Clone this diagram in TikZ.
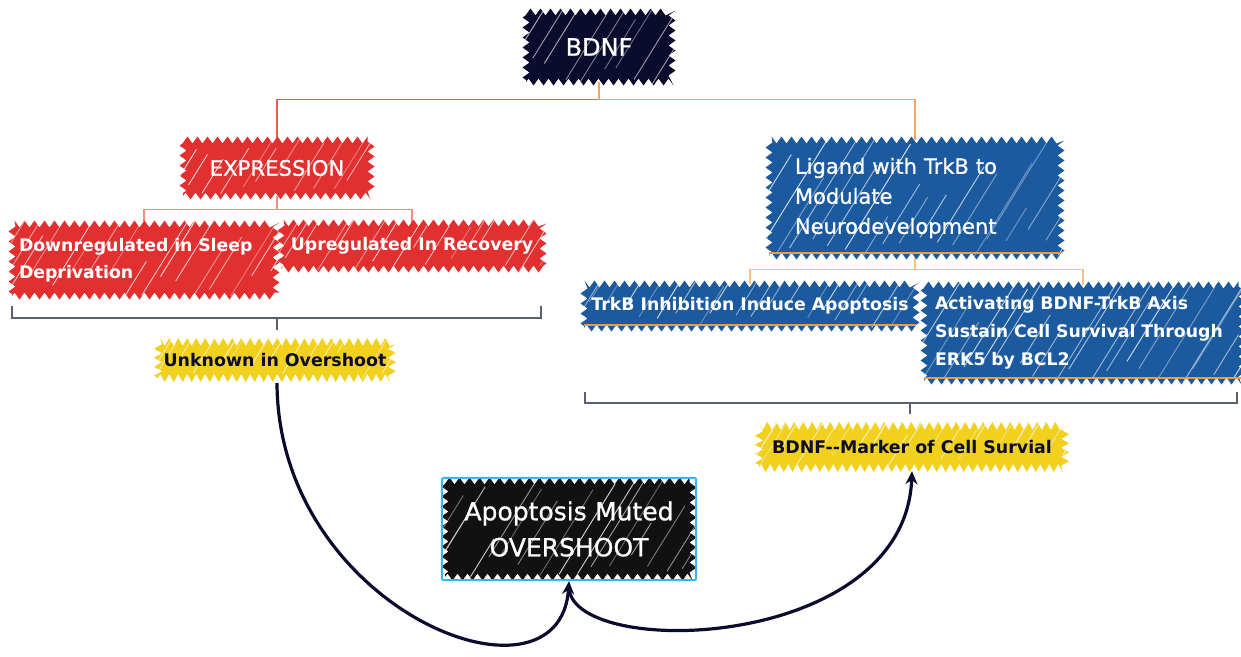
\documentclass[tikz,border=0pt]{standalone}
\usepackage{fontspec}
\setmainfont{DejaVu Sans}
\newfontfamily\medfont{DejaVu Sans}[FakeBold=0.8]
\usetikzlibrary{decorations.pathmorphing,arrows.meta,calc}
\pgfdeclarelayer{bg}
\pgfsetlayers{bg,main}
\definecolor{navy}{HTML}{0B0B2E}
\definecolor{scred}{HTML}{E22F2F}
\definecolor{scblue}{HTML}{1B5A9E}
\definecolor{scyel}{HTML}{F2D01E}
\definecolor{scblack}{HTML}{111111}
\definecolor{redline}{HTML}{EE5A50}
\definecolor{redline2}{HTML}{F58A82}
\definecolor{oraline}{HTML}{F7A55A}
\definecolor{oraline2}{HTML}{F9BE85}
\definecolor{brkcol}{HTML}{5A6070}
\definecolor{cyanline}{HTML}{38B6F0}
\definecolor{underl}{HTML}{F29A3A}
\tikzset{
  x=1pt, y=-1pt,
  hatch/.style={path picture={
    \foreach \k in {0,...,#1}{
      \pgfmathsetmacro\xa{\k*18+rnd*10-70}
      \pgfmathsetmacro\ya{rnd*30}
      \pgfmathsetmacro\ln{30+rnd*90}
      \pgfmathsetmacro\op{0.35+rnd*0.5}
      \draw[white, line width=0.9pt, opacity=\op]
        ($(path picture bounding box.south west)+(\xa pt,\ya pt)$) -- ++(0.62*\ln pt, \ln pt);
    }}},
  scrib/.style={fill=#1, decorate, decoration={zigzag, segment length=10pt, amplitude=3.5pt}},
  yscrib/.style={fill=scyel, decorate, decoration={zigzag, segment length=9pt, amplitude=4pt},
    text=navy, font=\bfseries\fontsize{17.4}{24}\selectfont, inner sep=0pt},
  wtxt/.style={text=white, inner sep=0pt},
  redc/.style={draw=redline, line width=1.2pt},
  redc2/.style={draw=redline2, line width=1.2pt},
  orac/.style={draw=oraline, line width=1.2pt},
  orac2/.style={draw=oraline2, line width=1.2pt},
  brk/.style={draw=brkcol, line width=1.3pt},
  ul/.style={draw=underl, line width=2pt},
  curv/.style={draw=navy, line width=3.2pt, -{Stealth[length=13pt,width=12pt]}},
}
\begin{document}
\begin{tikzpicture}
\pgfmathsetseed{11}
\useasboundingbox (0,0) rectangle (1241,656);
% nodes
\node[scrib=navy, hatch=14, wtxt, minimum width=146pt, minimum height=70pt,
      font=\medfont\fontsize{24}{30}\selectfont] (bdnf) at (599,47) {BDNF};
\node[scrib=scred, hatch=16, wtxt, minimum width=188pt, minimum height=56pt,
      font=\medfont\fontsize{21.2}{26}\selectfont] (expr) at (277,168) {EXPRESSION};
\node[scrib=scred, hatch=20, wtxt, minimum width=264pt, minimum height=72pt,
      text width=250pt, align=left, font=\bfseries\fontsize{17.3}{27}\selectfont] (down) at (144,260)
      {Downregulated in Sleep\\Deprivation};
\node[scrib=scred, hatch=20, wtxt, minimum width=262pt, minimum height=46pt,
      font=\bfseries\fontsize{17.3}{24}\selectfont] (up) at (412,246) {Upregulated In Recovery};
\node[yscrib, hatch=18, minimum width=234pt, minimum height=36pt] (unk) at (275,360) {Unknown in Overshoot};
\node[scrib=scblue, hatch=22, wtxt, minimum width=292pt, minimum height=116pt,
      text width=240pt, align=left, font=\medfont\fontsize{21}{30}\selectfont] (lig) at (915,198)
      {Ligand with TrkB to\\Modulate\\Neurodevelopment};
\node[scrib=scblue, hatch=24, wtxt, minimum width=332pt, minimum height=44pt,
      font=\bfseries\fontsize{17.3}{24}\selectfont] (trkb) at (750,306) {TrkB Inhibition Induce Apoptosis};
\node[scrib=scblue, hatch=24, wtxt, minimum width=318pt, minimum height=96pt,
      text width=296pt, align=left, font=\bfseries\fontsize{17.3}{28}\selectfont] (act) at (1083,333)
      {Activating BDNF-TrkB Axis\\Sustain Cell Survival Through\\ERK5 by BCL2};
\node[yscrib, hatch=22, minimum width=306pt, minimum height=42pt] (marker) at (912,447) {BDNF-{}-Marker of Cell Survial};
\node[scrib=scblack, hatch=20, wtxt, minimum width=248pt, minimum height=96pt,
      text width=244pt, align=center, font=\medfont\fontsize{25}{36}\selectfont] (apop) at (569,529)
      {Apoptosis Muted\\OVERSHOOT};
\draw[draw=cyanline, line width=2pt, rounded corners=2pt]
  ([shift={(-3pt,-3pt)}]apop.south west) rectangle ([shift={(3pt,3pt)}]apop.north east);
% underlines
\draw[ul] ([yshift=3pt]lig.south west) -- ([yshift=3pt]lig.south east);
\draw[ul] ([yshift=3pt]trkb.south west) -- ([yshift=3pt]trkb.south east);
\draw[ul] ([yshift=3pt]act.south west) -- ([yshift=3pt]act.south east);
% connectors
\begin{pgfonlayer}{bg}
\draw[redc] (bdnf.south) -- ++(0,17) -| (expr.north);
\draw[orac] (bdnf.south) -- ++(0,17) -| (lig.north);
\draw[redc2] (expr.south) -- ++(0,13) -| (down.north);
\draw[redc2] (expr.south) -- ++(0,13) -| (up.north);
\draw[orac2] (lig.south) -- ++(0,13) -| (trkb.north);
\draw[orac2] (lig.south) -- ++(0,13) -| (act.north);
\end{pgfonlayer}
% brackets
\coordinate (lbl) at (12,306);
\coordinate (lbr) at (541,306);
\coordinate (lbm) at (277,318);
\draw[brk] (lbl) -- (12,318) -- (541,318) -- (lbr);
\draw[brk] (lbm) -- ++(0,12);
\coordinate (rbl) at (585,392);
\coordinate (rbr) at (1237,392);
\coordinate (rbm) at (910,403);
\draw[brk] (rbl) -- (585,403) -- (1237,403) -- (rbr);
\draw[brk] (rbm) -- ++(0,11);
% curved arrows
\draw[curv] ([xshift=2pt,yshift=-5pt]unk.south) .. controls (278,610) and (560,720) .. ([yshift=-4pt]apop.south);
\draw[curv] ([yshift=-12pt]apop.south) .. controls (578,660) and (905,650) .. ([yshift=-3pt]marker.south);
\end{tikzpicture}
\end{document}
